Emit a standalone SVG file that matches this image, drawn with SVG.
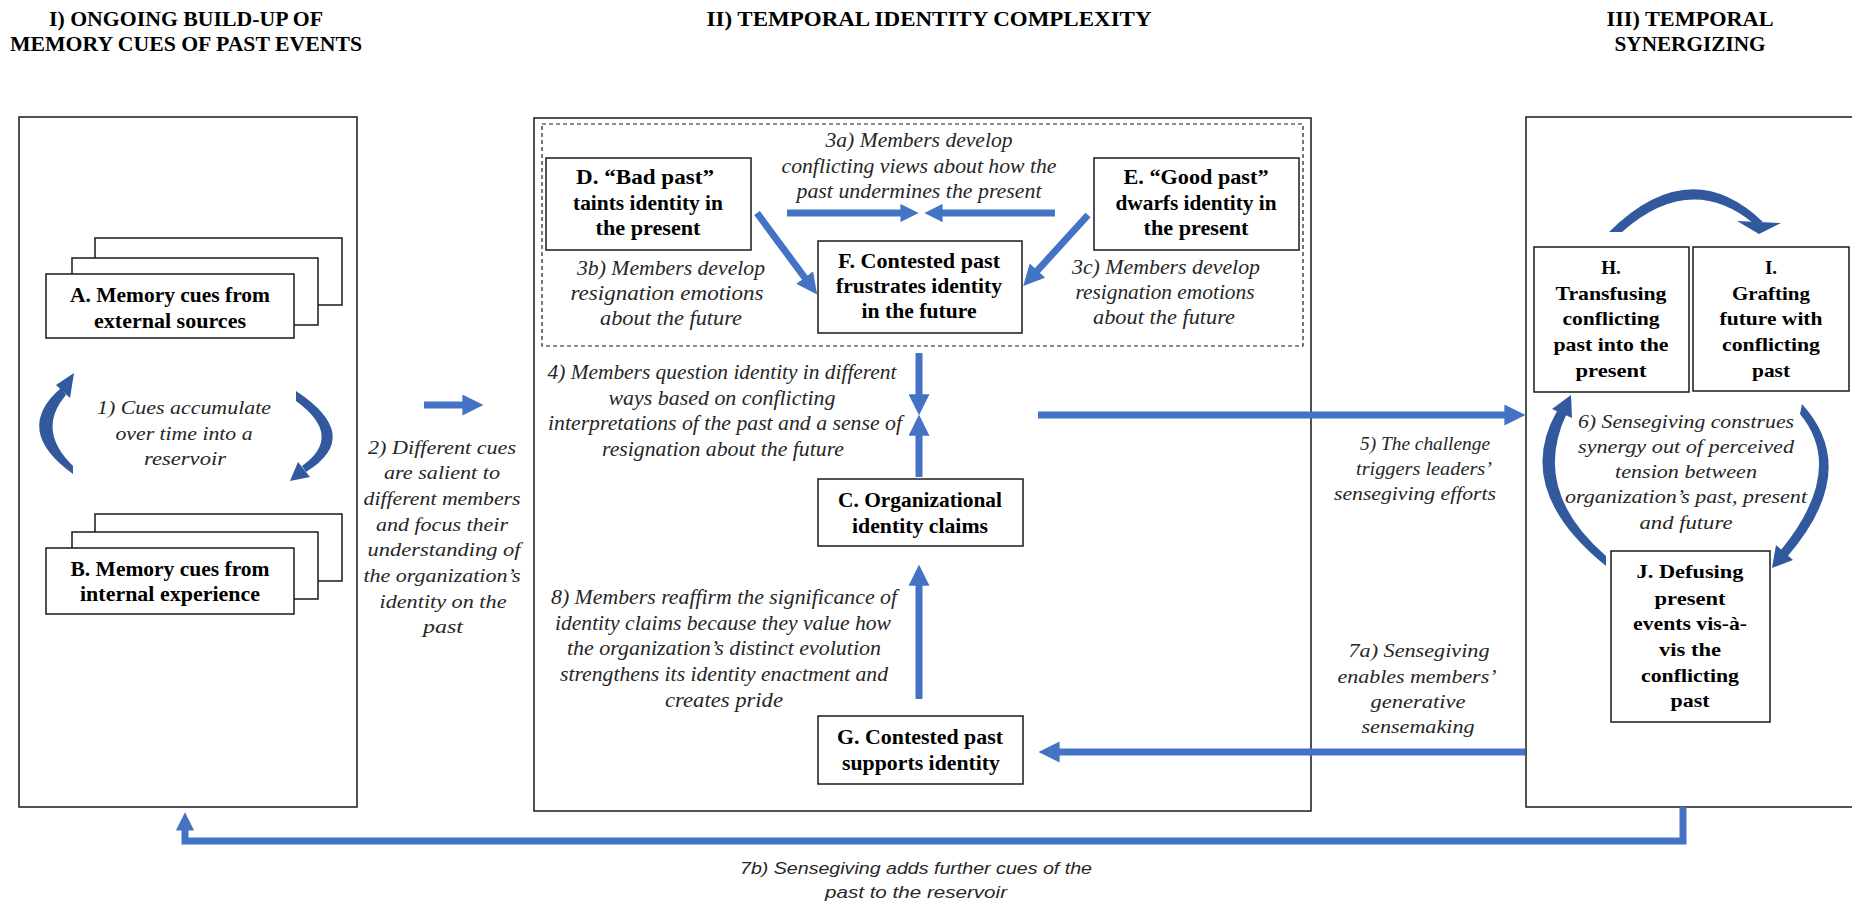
<svg xmlns="http://www.w3.org/2000/svg" width="1852" height="904" viewBox="0 0 1852 904">
<style>
.t{font-family:'Liberation Serif','Times New Roman',serif;fill:#000}
.bx{font-weight:bold;font-size:21px}
.hb{font-weight:bold;font-size:19px}
.ab{font-weight:bold;font-size:20px}
.ti{font-weight:bold;font-size:21.5px}
.i{font-style:italic;fill:#262626}
.iw{font-size:19px}
.ic{font-size:20px}
.s{font-family:'Liberation Sans',Arial,sans-serif;font-style:italic;font-size:17px;fill:#262626}
.box{fill:#fff;stroke:#1a1a1a;stroke-width:1.5}
.panel{fill:none;stroke:#1a1a1a;stroke-width:1.5}
.dash{fill:none;stroke:#1a1a1a;stroke-width:1.2;stroke-dasharray:4 3}
.con{fill:none;stroke:#4472C4;stroke-width:7}
.arc{fill:#32599E}
</style>
<defs>
<marker id="ah" viewBox="0 0 10 10" refX="0.3" refY="5" markerWidth="3" markerHeight="3" orient="auto">
<path d="M0,0 L10,5 L0,10 z" fill="#4472C4"/>
</marker>
<marker id="ah2" viewBox="0 0 10 10" refX="0.3" refY="5" markerWidth="2.6" markerHeight="2.6" orient="auto">
<path d="M0,0 L10,5 L0,10 z" fill="#4472C4"/>
</marker>
</defs>

<g id="titles" class="t ti" text-anchor="middle">
<text x="186" y="26" textLength="274" lengthAdjust="spacingAndGlyphs">I) ONGOING BUILD-UP OF</text>
<text x="186" y="51" textLength="352" lengthAdjust="spacingAndGlyphs">MEMORY CUES OF PAST EVENTS</text>
<text x="929" y="26" textLength="445" lengthAdjust="spacingAndGlyphs">II) TEMPORAL IDENTITY COMPLEXITY</text>
<text x="1690" y="26" textLength="167" lengthAdjust="spacingAndGlyphs">III) TEMPORAL</text>
<text x="1690" y="51" textLength="151" lengthAdjust="spacingAndGlyphs">SYNERGIZING</text>
</g>

<g id="panels">
<rect class="panel" x="19" y="117" width="338" height="690"/>
<rect class="panel" x="534" y="118" width="777" height="693"/>
<rect class="dash" x="542" y="124" width="761" height="222"/>
<rect class="panel" x="1526" y="117" width="340" height="690"/>
</g>

<g id="connectors">
<line class="con" x1="424" y1="405" x2="463" y2="405" marker-end="url(#ah)"/>
<line class="con" x1="787" y1="213" x2="901" y2="213" marker-end="url(#ah2)"/>
<line class="con" x1="1055" y1="213" x2="942" y2="213" marker-end="url(#ah2)"/>
<line class="con" x1="757" y1="213" x2="805" y2="278" marker-end="url(#ah)"/>
<line class="con" x1="1088" y1="215" x2="1037" y2="271" marker-end="url(#ah)"/>
<line class="con" x1="919" y1="353" x2="919" y2="395" marker-end="url(#ah)"/>
<line class="con" x1="919" y1="477" x2="919" y2="435" marker-end="url(#ah)"/>
<line class="con" x1="919" y1="699" x2="919" y2="585" marker-end="url(#ah)"/>
<line class="con" x1="1038" y1="415" x2="1505" y2="415" marker-end="url(#ah)"/>
<line class="con" x1="1525" y1="752" x2="1059" y2="752" marker-end="url(#ah)"/>
<polyline class="con" points="1683,807 1683,841 185,841 185,830" stroke-linejoin="miter" marker-end="url(#ah2)"/>
<path class="arc" d="M 73 474 Q 12 430 61 388 L 66 395 Q 36 430 73 466 Z"/>
<path class="arc" d="M 56 385 L 74 373 L 70 398 Z"/>
<path class="arc" d="M 296 391 Q 364 436 306 472 L 302 466 Q 344 436 296 401 Z"/>
<path class="arc" d="M 298 462 L 290 481 L 310 477 Z"/>
<path class="arc" d="M 1609 232 Q 1690 152 1763 222 L 1753 223 Q 1690 172 1622 232 Z"/>
<path class="arc" d="M 1737 221 L 1781 223 L 1759 234 Z"/>
<path class="arc" d="M 1606 566 Q 1512 490 1557 411 L 1567 413 Q 1530 490 1606 556 Z"/>
<path class="arc" d="M 1552 409 L 1571 395 L 1572 418 Z"/>
<path class="arc" d="M 1802 404 Q 1862 470 1787 557 L 1781 550 Q 1846 470 1800 414 Z"/>
<path class="arc" d="M 1776 545 L 1772 568 L 1793 560 Z"/>
</g>

<g id="nodeA">
<rect class="box" x="95" y="238" width="247" height="67"/>
<rect class="box" x="72" y="258" width="246" height="67"/>
<rect class="box" x="46" y="274" width="248" height="64"/>
<text class="t ab" text-anchor="middle" x="170" y="302" textLength="200" lengthAdjust="spacingAndGlyphs">A. Memory cues from</text>
<text class="t ab" text-anchor="middle" x="170" y="328" textLength="152" lengthAdjust="spacingAndGlyphs">external sources</text>
</g>

<g id="nodeB">
<rect class="box" x="95" y="514" width="247" height="67"/>
<rect class="box" x="72" y="532" width="246" height="67"/>
<rect class="box" x="46" y="548" width="248" height="66"/>
<text class="t ab" text-anchor="middle" x="170" y="576" textLength="199" lengthAdjust="spacingAndGlyphs">B. Memory cues from</text>
<text class="t ab" text-anchor="middle" x="170" y="601" textLength="180" lengthAdjust="spacingAndGlyphs">internal experience</text>
</g>

<g id="nodeD">
<rect class="box" x="546" y="158" width="205" height="92"/>
<g class="t bx" text-anchor="middle">
<text x="645" y="184" textLength="138" lengthAdjust="spacingAndGlyphs">D. “Bad past”</text>
<text x="648" y="210" textLength="150" lengthAdjust="spacingAndGlyphs">taints identity in</text>
<text x="648" y="235" textLength="105" lengthAdjust="spacingAndGlyphs">the present</text>
</g>
</g>

<g id="nodeE">
<rect class="box" x="1094" y="158" width="205" height="92"/>
<g class="t bx" text-anchor="middle">
<text x="1196" y="184" textLength="145" lengthAdjust="spacingAndGlyphs">E. “Good past”</text>
<text x="1196" y="210" textLength="161" lengthAdjust="spacingAndGlyphs">dwarfs  identity in</text>
<text x="1196" y="235" textLength="105" lengthAdjust="spacingAndGlyphs">the present</text>
</g>
</g>

<g id="nodeF">
<rect class="box" x="818" y="241" width="204" height="92"/>
<g class="t bx" text-anchor="middle">
<text x="919" y="268" textLength="162" lengthAdjust="spacingAndGlyphs">F. Contested past</text>
<text x="919" y="293" textLength="166" lengthAdjust="spacingAndGlyphs">frustrates identity</text>
<text x="919" y="318" textLength="115" lengthAdjust="spacingAndGlyphs">in the future</text>
</g>
</g>

<g id="nodeC">
<rect class="box" x="818" y="479" width="205" height="67"/>
<g class="t bx" text-anchor="middle">
<text x="920" y="507" textLength="164" lengthAdjust="spacingAndGlyphs">C. Organizational</text>
<text x="920" y="533" textLength="136" lengthAdjust="spacingAndGlyphs">identity claims</text>
</g>
</g>

<g id="nodeG">
<rect class="box" x="818" y="716" width="205" height="68"/>
<g class="t bx" text-anchor="middle">
<text x="920" y="744" textLength="166" lengthAdjust="spacingAndGlyphs">G. Contested past</text>
<text x="921" y="770" textLength="158" lengthAdjust="spacingAndGlyphs">supports identity</text>
</g>
</g>

<g id="nodeH">
<rect class="box" x="1534" y="247" width="155" height="145"/>
<g class="t hb" text-anchor="middle">
<text x="1611" y="274">H.</text>
<text x="1611" y="300" textLength="111" lengthAdjust="spacingAndGlyphs">Transfusing</text>
<text x="1611" y="325" textLength="97" lengthAdjust="spacingAndGlyphs">conflicting</text>
<text x="1611" y="351" textLength="115" lengthAdjust="spacingAndGlyphs">past into the</text>
<text x="1611" y="377" textLength="71" lengthAdjust="spacingAndGlyphs">present</text>
</g>
</g>

<g id="nodeI">
<rect class="box" x="1693" y="247" width="156" height="144"/>
<g class="t hb" text-anchor="middle">
<text x="1771" y="274">I.</text>
<text x="1771" y="300" textLength="78" lengthAdjust="spacingAndGlyphs">Grafting</text>
<text x="1771" y="325" textLength="103" lengthAdjust="spacingAndGlyphs">future with</text>
<text x="1771" y="351" textLength="98" lengthAdjust="spacingAndGlyphs">conflicting</text>
<text x="1771" y="377" textLength="38" lengthAdjust="spacingAndGlyphs">past</text>
</g>
</g>

<g id="nodeJ">
<rect class="box" x="1611" y="551" width="159" height="171"/>
<g class="t hb" text-anchor="middle">
<text x="1690" y="578" textLength="107" lengthAdjust="spacingAndGlyphs">J. Defusing</text>
<text x="1690" y="605" textLength="71" lengthAdjust="spacingAndGlyphs">present</text>
<text x="1690" y="630" textLength="114" lengthAdjust="spacingAndGlyphs">events vis-à-</text>
<text x="1690" y="656" textLength="62" lengthAdjust="spacingAndGlyphs">vis the</text>
<text x="1690" y="682" textLength="98" lengthAdjust="spacingAndGlyphs">conflicting</text>
<text x="1690" y="707" textLength="39" lengthAdjust="spacingAndGlyphs">past</text>
</g>
</g>

<g id="labels" text-anchor="middle">
<g class="t i iw">
<text x="184" y="414" textLength="174" lengthAdjust="spacingAndGlyphs">1) Cues accumulate</text>
<text x="184" y="440" textLength="137" lengthAdjust="spacingAndGlyphs">over time into a</text>
<text x="185" y="465" textLength="82" lengthAdjust="spacingAndGlyphs">reservoir</text>
</g>
<g class="t i iw">
<text x="442" y="454" textLength="148" lengthAdjust="spacingAndGlyphs">2) Different cues</text>
<text x="442" y="479" textLength="116" lengthAdjust="spacingAndGlyphs">are salient to</text>
<text x="442" y="505" textLength="157" lengthAdjust="spacingAndGlyphs">different members</text>
<text x="442" y="531" textLength="132" lengthAdjust="spacingAndGlyphs">and focus their</text>
<text x="444" y="556" textLength="153" lengthAdjust="spacingAndGlyphs">understanding of</text>
<text x="442" y="582" textLength="157" lengthAdjust="spacingAndGlyphs">the organization’s</text>
<text x="443" y="608" textLength="127" lengthAdjust="spacingAndGlyphs">identity on the</text>
<text x="443" y="633" textLength="40" lengthAdjust="spacingAndGlyphs">past</text>
</g>
<g class="t i ic">
<text x="919" y="147" textLength="187" lengthAdjust="spacingAndGlyphs">3a) Members develop</text>
<text x="919" y="173" textLength="275" lengthAdjust="spacingAndGlyphs">conflicting views about how the</text>
<text x="919" y="198" textLength="245" lengthAdjust="spacingAndGlyphs">past undermines the present</text>
</g>
<g class="t i ic">
<text x="671" y="275" textLength="188" lengthAdjust="spacingAndGlyphs">3b) Members develop</text>
<text x="667" y="300" textLength="193" lengthAdjust="spacingAndGlyphs">resignation emotions</text>
<text x="671" y="325" textLength="142" lengthAdjust="spacingAndGlyphs">about the future</text>
</g>
<g class="t i ic">
<text x="1166" y="274" textLength="188" lengthAdjust="spacingAndGlyphs">3c) Members develop</text>
<text x="1165" y="299" textLength="179" lengthAdjust="spacingAndGlyphs">resignation emotions</text>
<text x="1164" y="324" textLength="142" lengthAdjust="spacingAndGlyphs">about the future</text>
</g>
<g class="t i ic">
<text x="722" y="379" textLength="349" lengthAdjust="spacingAndGlyphs">4) Members question identity in different</text>
<text x="722" y="405" textLength="227" lengthAdjust="spacingAndGlyphs">ways based on conflicting</text>
<text x="725" y="430" textLength="354" lengthAdjust="spacingAndGlyphs">interpretations of the past and a sense of</text>
<text x="723" y="456" textLength="242" lengthAdjust="spacingAndGlyphs">resignation about the future</text>
</g>
<g class="t i ic">
<text x="724" y="604" textLength="346" lengthAdjust="spacingAndGlyphs">8) Members reaffirm the significance of</text>
<text x="723" y="630" textLength="336" lengthAdjust="spacingAndGlyphs">identity claims because they value how</text>
<text x="724" y="655" textLength="314" lengthAdjust="spacingAndGlyphs">the organization’s distinct evolution</text>
<text x="724" y="681" textLength="328" lengthAdjust="spacingAndGlyphs">strengthens its identity enactment and</text>
<text x="724" y="707" textLength="118" lengthAdjust="spacingAndGlyphs">creates pride</text>
</g>
<g class="t i iw">
<text x="1425" y="450" textLength="130" lengthAdjust="spacingAndGlyphs">5) The challenge</text>
<text x="1424" y="475" textLength="136" lengthAdjust="spacingAndGlyphs">triggers leaders’</text>
<text x="1415" y="500" textLength="162" lengthAdjust="spacingAndGlyphs">sensegiving efforts</text>
</g>
<g class="t i iw">
<text x="1686" y="428" textLength="216" lengthAdjust="spacingAndGlyphs">6) Sensegiving construes</text>
<text x="1686" y="453" textLength="216" lengthAdjust="spacingAndGlyphs">synergy out of perceived</text>
<text x="1686" y="478" textLength="142" lengthAdjust="spacingAndGlyphs">tension between</text>
<text x="1686" y="503" textLength="242" lengthAdjust="spacingAndGlyphs">organization’s past, present</text>
<text x="1686" y="529" textLength="93" lengthAdjust="spacingAndGlyphs">and future</text>
</g>
<g class="t i iw">
<text x="1419" y="657" textLength="141" lengthAdjust="spacingAndGlyphs">7a) Sensegiving</text>
<text x="1417" y="683" textLength="159" lengthAdjust="spacingAndGlyphs">enables members’</text>
<text x="1418" y="708" textLength="95" lengthAdjust="spacingAndGlyphs">generative</text>
<text x="1418" y="733" textLength="113" lengthAdjust="spacingAndGlyphs">sensemaking</text>
</g>
<g class="s">
<text x="916" y="874" textLength="352" lengthAdjust="spacingAndGlyphs">7b) Sensegiving adds further cues of the</text>
<text x="916" y="898" textLength="182" lengthAdjust="spacingAndGlyphs">past to the reservoir</text>
</g>
</g>
</svg>
